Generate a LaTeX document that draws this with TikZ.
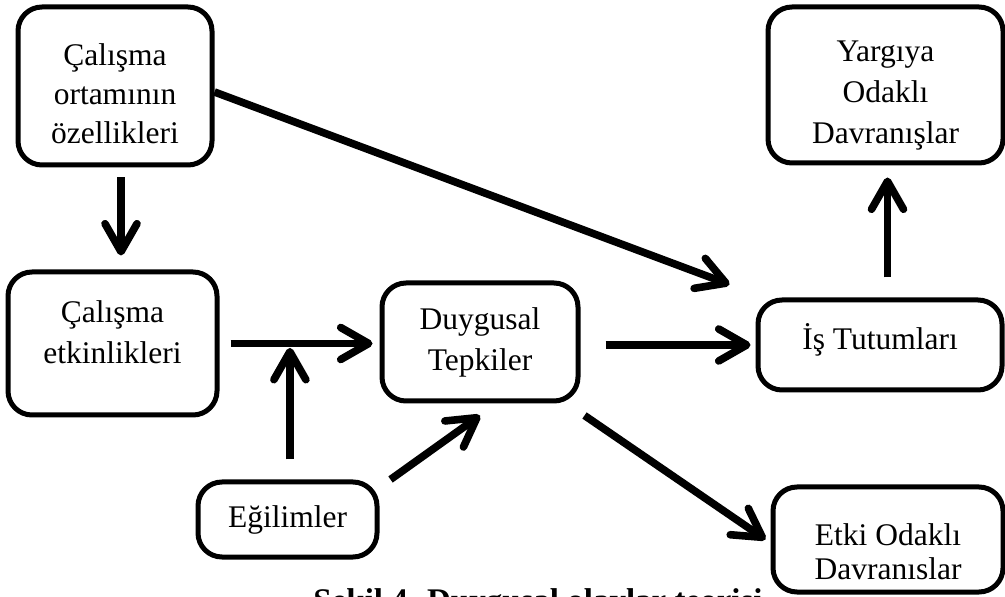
\documentclass[tikz,border=0pt]{standalone}
\usepackage{fontspec}
\setmainfont{Liberation Serif}
\usetikzlibrary{arrows.meta}

\begin{document}
\begin{tikzpicture}[
  x=0.5pt,
  y=-0.5pt,
  every node/.style={font=\fontsize{15.75pt}{20.5pt}\selectfont, black},
  block/.style={draw, line width=2.5pt, rounded corners=12pt, fill=white,
    inner sep=0pt},
  blocktext/.style={align=center, inner sep=0pt},
  link/.style={line width=3.8pt, -{Straight Barb[length=14pt, width=16pt, round]}},
  figcap/.style={font=\fontsize{16.5pt}{20pt}\selectfont\bfseries, inner sep=0pt}
]
  % ================= page, cut at the bottom as in the scan ==============
  \clip (0,0) rectangle (1005,597);
  \fill[white] (0,0) rectangle (1005,597);

  % the caption runs under the lower right box
  \node[figcap, anchor=base west] (baslik) at (313,611)
    {Şekil 4. Duygusal olaylar teorisi};

  % ================= boxes ===============================================
  \node[block, minimum width=97pt, minimum height=79pt] (ortam) at (115,86) {};
  \node[blocktext, font=\fontsize{15.75pt}{19.5pt}\selectfont] (ortam-t)
    at ([yshift=-4pt]ortam.center) {Çalışma\\ortamının\\özellikleri};

  \node[block, minimum width=104.5pt, minimum height=71.5pt] (etkinlik) at (112.5,343.5) {};
  \node[blocktext] (etkinlik-t) at ([yshift=5.5pt]etkinlik.center)
    {Çalışma\\etkinlikleri};

  \node[block, minimum width=98pt, minimum height=59pt] (duygu) at (480,342) {};
  \node[blocktext] (duygu-t) at (duygu.center) {Duygusal\\Tepkiler};

  \node[block, minimum width=89.5pt, minimum height=37.5pt] (egilim) at (287.5,519.5) {};
  \node[blocktext] (egilim-t) at (egilim.center) {Eğilimler};

  \node[block, minimum width=122pt, minimum height=45pt] (tutum) at (880,345) {};
  \node[blocktext] (tutum-t) at ([yshift=2.5pt]tutum.center) {İş Tutumları};

  \node[block, minimum width=117.5pt, minimum height=78pt] (yargi) at (885.5,85) {};
  \node[blocktext] (yargi-t) at ([yshift=-5.5pt]yargi.center)
    {Yargıya\\Odaklı\\Davranışlar};

  \node[block, minimum width=115pt, minimum height=52.5pt] (etki) at (888,539.5) {};
  \node[blocktext, font=\fontsize{15.75pt}{17pt}\selectfont] (etki-t)
    at ([yshift=-6pt]etki.center) {Etki Odaklı\\Davranıslar};

  % ================= arrows ==============================================
  \coordinate (kesisim) at (egilim.north |- etkinlik.east);

  \draw[link, shorten <=5pt, shorten >=7pt]
    ([xshift=3pt]ortam.south) -- ([xshift=3pt]ortam.south |- etkinlik.north);
  \draw[link] ([yshift=-3pt]ortam.east)
    -- ([xshift=-13pt, yshift=6.5pt]tutum.north west);
  \draw[link, shorten <=5.5pt, shorten >=3.5pt]
    (etkinlik.east) -- (etkinlik.east -| duygu.west);
  \draw[link, shorten <=10pt, shorten >=2.2pt]
    ([xshift=1.2pt]egilim.north) -- ([xshift=1.2pt]kesisim);
  \draw[link] ([xshift=5.5pt]egilim.north east) -- ([yshift=-6pt]duygu.south);
  \draw[link, shorten <=12.5pt, shorten >=2.5pt]
    (duygu.east |- tutum.west) -- (tutum.west);
  \draw[link] ([shift={(2pt,-6pt)}]duygu.south east) -- ([xshift=-2.5pt]etki.west);
  \draw[link, shorten <=10pt, shorten >=6pt]
    ([xshift=1pt]yargi.south |- tutum.north) -- ([xshift=1pt]yargi.south);
\end{tikzpicture}
\end{document}
